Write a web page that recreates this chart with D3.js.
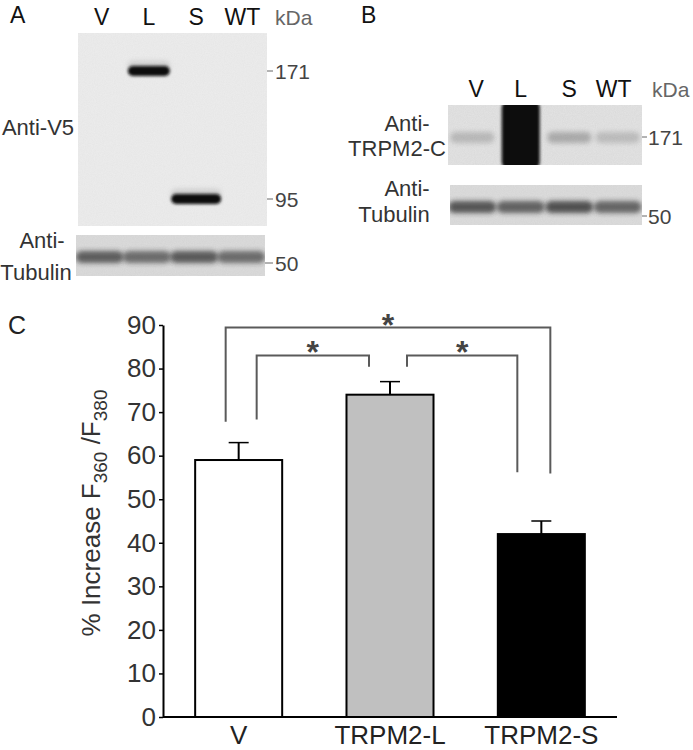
<!DOCTYPE html>
<html>
<head>
<meta charset="utf-8">
<script src="https://cdn.jsdelivr.net/npm/d3@7"></script>
<style>
  body { margin: 0; background: #fff; }
  svg { display: block; font-family: Arial, "Liberation Sans", sans-serif; }
</style>
</head>
<body>
<div class="chart"></div>
<script>
// ---- panel C data
var groups = ["V", "TRPM2-L", "TRPM2-S"];
var means = [59, 74, 42];
var errors = [4, 3, 3];
var yTicks = [0, 10, 20, 30, 40, 50, 60, 70, 80, 90];
// significance brackets: group index pairs, top level, leg ends (in % units)
var sigFrom = [0, 1, 0];
var sigTo = [1, 2, 2];
var sigTop = [83, 83, 89.4];
var sigFromEnd = [68.3, 80.4, 67.8];
var sigToEnd = [80.4, 56.2, 55.9];

// ---- blot data
var lanes = ["V", "L", "S", "WT"];
var markersA = [171, 95];
var v5Lane = ["L", "S"];
var v5kDa = [171, 95];
var trpm2Strength = [0.22, 1, 0.3, 0.2];
var tubulinA = [0.7, 0.62, 0.72, 0.62];
var tubulinB = [0.75, 0.68, 0.78, 0.66];

var width = 693, height = 750;
var svg = d3.select(".chart").append("svg").attr("width", width).attr("height", height);

var defs = svg.append("defs");
defs.append("filter").attr("id", "blur2").attr("x", "-30%").attr("y", "-60%").attr("width", "160%").attr("height", "220%")
  .append("feGaussianBlur").attr("stdDeviation", 1.8);
defs.append("filter").attr("id", "blur3").attr("x", "-30%").attr("y", "-60%").attr("width", "160%").attr("height", "220%")
  .append("feGaussianBlur").attr("stdDeviation", 2.6);
var noise = defs.append("filter").attr("id", "noise");
noise.append("feTurbulence").attr("type", "fractalNoise").attr("baseFrequency", 0.9).attr("numOctaves", 2).attr("seed", 4);
noise.append("feColorMatrix").attr("type", "matrix")
  .attr("values", "0 0 0 0 0.3  0 0 0 0 0.3  0 0 0 0 0.3  0 0 0 0.35 0");

function blotBox(g, x, y, w, h, fill, id) {
  defs.append("clipPath").attr("id", id).append("rect").attr("x", x).attr("y", y).attr("width", w).attr("height", h);
  g.append("rect").attr("x", x).attr("y", y).attr("width", w).attr("height", h).attr("fill", fill);
  var inner = g.append("g").attr("clip-path", "url(#" + id + ")");
  return inner;
}
function addNoise(g, x, y, w, h, op) {
  g.append("rect").attr("x", x).attr("y", y).attr("width", w).attr("height", h)
    .attr("filter", "url(#noise)").attr("opacity", op);
}

// ================= Panel A
var gA = svg.append("g");
gA.append("text").attr("x", 10).attr("y", 23).attr("font-size", 23).attr("fill", "#111").text("A");

var laneA = d3.scaleBand().domain(lanes).range([78, 267]);
gA.selectAll(".laneA").data(lanes).enter().append("text")
  .attr("x", d => laneA(d) + laneA.bandwidth() / 2 + (d === "WT" ? -1 : 0))
  .attr("y", 25).attr("text-anchor", "middle").attr("font-size", 23).attr("fill", "#111").text(d => d);
gA.append("text").attr("x", 275).attr("y", 25).attr("font-size", 21).attr("fill", "#666").text("kDa");

var kdaA = d3.scaleLog().domain([171, 95]).range([71, 199]);
var blotA = blotBox(gA, 78, 33, 189, 193, "#ededed", "clipA");
addNoise(blotA, 78, 33, 189, 193, 0.25);
v5Lane.forEach(function (ln, i) {
  var cx = laneA(ln) + laneA.bandwidth() / 2;
  var w = ln === "S" ? 50 : 42;
  // faint smear above band
  blotA.append("rect").attr("x", cx - w / 2).attr("y", kdaA(v5kDa[i]) - 10).attr("width", w).attr("height", 10)
    .attr("rx", 5).attr("fill", "#999").attr("opacity", 0.35).attr("filter", "url(#blur3)");
  blotA.append("rect").attr("x", cx - w / 2).attr("y", kdaA(v5kDa[i]) - 5).attr("width", w).attr("height", 10)
    .attr("rx", 5).attr("fill", "#111").attr("filter", "url(#blur2)");
});
gA.selectAll(".mkA").data(markersA).enter().append("line")
  .attr("x1", 267).attr("x2", 273).attr("y1", d => kdaA(d)).attr("y2", d => kdaA(d))
  .attr("stroke", "#666").attr("stroke-width", 1);
gA.selectAll(".mkAt").data(markersA).enter().append("text")
  .attr("x", 275).attr("y", d => kdaA(d) + 7.5).attr("font-size", 21).attr("fill", "#444").text(d => d);
gA.append("text").attr("x", 38).attr("y", 135).attr("text-anchor", "middle").attr("font-size", 22).attr("fill", "#333").text("Anti-V5");

// tubulin strip A
var tubA = blotBox(gA, 76, 235, 189, 41, "#dcdcdc", "clipTA");
addNoise(tubA, 76, 235, 189, 41, 0.35);
lanes.forEach(function (ln, i) {
  var cx = laneA(ln) + laneA.bandwidth() / 2 - 2;
  tubA.append("rect").attr("x", cx - 24).attr("y", 251).attr("width", 48).attr("height", 12).attr("rx", 6)
    .attr("fill", "#2a2a2a").attr("opacity", tubulinA[i]).attr("filter", "url(#blur3)");
});
gA.append("line").attr("x1", 265).attr("x2", 273).attr("y1", 263).attr("y2", 263).attr("stroke", "#666");
gA.append("text").attr("x", 275).attr("y", 271).attr("font-size", 21).attr("fill", "#444").text("50");
gA.append("text").attr("x", 42).attr("y", 248).attr("text-anchor", "middle").attr("font-size", 22).attr("fill", "#333").text("Anti-");
gA.append("text").attr("x", 36).attr("y", 280).attr("text-anchor", "middle").attr("font-size", 22).attr("fill", "#333").text("Tubulin");

// ================= Panel B
var gB = svg.append("g");
gB.append("text").attr("x", 361).attr("y", 23).attr("font-size", 23).attr("fill", "#111").text("B");
var laneB = d3.scaleBand().domain(lanes).range([448, 642]);
gB.selectAll(".laneB").data(lanes).enter().append("text")
  .attr("x", d => laneB(d) + laneB.bandwidth() / 2 + (d === "WT" ? -4 : d === "V" ? 4 : 0))
  .attr("y", 97).attr("text-anchor", "middle").attr("font-size", 23).attr("fill", "#111").text(d => d);
gB.append("text").attr("x", 652).attr("y", 97).attr("font-size", 21).attr("fill", "#666").text("kDa");

var blotB = blotBox(gB, 448, 105, 194, 60, "#e4e4e4", "clipB");
addNoise(blotB, 448, 105, 194, 60, 0.4);
lanes.forEach(function (ln, i) {
  var cx = laneB(ln) + laneB.bandwidth() / 2;
  if (trpm2Strength[i] >= 1) {
    blotB.append("rect").attr("x", cx - 19).attr("y", 100).attr("width", 38).attr("height", 70).attr("rx", 8)
      .attr("fill", "#0a0a0a").attr("filter", "url(#blur2)");
  } else {
    blotB.append("rect").attr("x", cx - 22).attr("y", 132).attr("width", 44).attr("height", 11).attr("rx", 5)
      .attr("fill", "#333").attr("opacity", trpm2Strength[i]).attr("filter", "url(#blur3)");
  }
});
gB.append("line").attr("x1", 642).attr("x2", 647).attr("y1", 137).attr("y2", 137).attr("stroke", "#666");
gB.append("text").attr("x", 648).attr("y", 144.5).attr("font-size", 21).attr("fill", "#444").text("171");
gB.append("text").attr("x", 407).attr("y", 131).attr("text-anchor", "middle").attr("font-size", 22).attr("fill", "#333").text("Anti-");
gB.append("text").attr("x", 397).attr("y", 156).attr("text-anchor", "middle").attr("font-size", 22).attr("fill", "#333").text("TRPM2-C");

var tubB = blotBox(gB, 450, 185, 192, 40, "#dddddd", "clipTB");
addNoise(tubB, 450, 185, 192, 40, 0.35);
lanes.forEach(function (ln, i) {
  var cx = laneB(ln) + laneB.bandwidth() / 2;
  tubB.append("rect").attr("x", cx - 24).attr("y", 201).attr("width", 48).attr("height", 12).attr("rx", 6)
    .attr("fill", "#2a2a2a").attr("opacity", tubulinB[i]).attr("filter", "url(#blur3)");
});
gB.append("line").attr("x1", 642).attr("x2", 647).attr("y1", 216).attr("y2", 216).attr("stroke", "#666");
gB.append("text").attr("x", 648).attr("y", 223.5).attr("font-size", 21).attr("fill", "#444").text("50");
gB.append("text").attr("x", 407).attr("y", 196).attr("text-anchor", "middle").attr("font-size", 22).attr("fill", "#333").text("Anti-");
gB.append("text").attr("x", 394).attr("y", 222).attr("text-anchor", "middle").attr("font-size", 22).attr("fill", "#333").text("Tubulin");

// ================= Panel C
var gC = svg.append("g");
gC.append("text").attr("x", 8).attr("y", 334).attr("font-size", 25).attr("fill", "#222").text("C");

var x = d3.scaleBand().domain(groups).range([163, 617]).paddingInner(0.425).paddingOuter(0.2125);
var y = d3.scaleLinear().domain([0, 90]).range([717, 325]);
var fills = ["#ffffff", "#c0c0c0", "#000000"];

var yAxis = gC.append("g").attr("transform", "translate(163,0)")
  .call(d3.axisLeft(y).tickValues(yTicks).tickSize(4).tickSizeOuter(0).tickPadding(3));
yAxis.select(".domain").attr("stroke", "#000").attr("stroke-width", 2);
yAxis.selectAll(".tick line").attr("stroke", "#000").attr("stroke-width", 1.5);
yAxis.selectAll(".tick text").attr("font-size", 26).attr("fill", "#333").attr("font-family", "Arial, 'Liberation Sans', sans-serif");

// bars
gC.selectAll(".bar").data(groups).enter().append("rect")
  .attr("x", d => x(d)).attr("width", x.bandwidth())
  .attr("y", (d, i) => y(means[i])).attr("height", (d, i) => y(0) - y(means[i]))
  .attr("fill", (d, i) => fills[i]).attr("stroke", "#000").attr("stroke-width", 2);

// error bars
groups.forEach(function (g, i) {
  var cx = x(g) + x.bandwidth() / 2;
  gC.append("line").attr("x1", cx).attr("x2", cx).attr("y1", y(means[i])).attr("y2", y(means[i] + errors[i]))
    .attr("stroke", "#000").attr("stroke-width", 2);
  gC.append("line").attr("x1", cx - 10).attr("x2", cx + 10).attr("y1", y(means[i] + errors[i])).attr("y2", y(means[i] + errors[i]))
    .attr("stroke", "#000").attr("stroke-width", 1.5);
});

// x axis line
gC.append("line").attr("x1", 163).attr("x2", 617).attr("y1", y(0)).attr("y2", y(0)).attr("stroke", "#000").attr("stroke-width", 2);
gC.selectAll(".xl").data(groups).enter().append("text")
  .attr("x", d => x(d) + x.bandwidth() / 2).attr("y", 744).attr("text-anchor", "middle")
  .attr("font-size", 26).attr("fill", "#222").text(d => d);

// significance brackets
var legOffFrom = [18, 17, -13];
var legOffTo = [-21, -24, 9];
sigFrom.forEach(function (f, k) {
  var x1 = x(groups[f]) + x.bandwidth() / 2 + legOffFrom[k];
  var x2 = x(groups[sigTo[k]]) + x.bandwidth() / 2 + legOffTo[k];
  gC.append("path")
    .attr("d", "M" + x1 + "," + y(sigFromEnd[k]) + "V" + y(sigTop[k]) + "H" + x2 + "V" + y(sigToEnd[k]))
    .attr("fill", "none").attr("stroke", "#5a5a5a").attr("stroke-width", 2);
  gC.append("text").attr("x", (x1 + x2) / 2).attr("y", y(sigTop[k]) + 8).attr("text-anchor", "middle")
    .attr("font-size", 32).attr("font-weight", "bold").attr("fill", "#444").text("*");
});

// y axis label
var yl = gC.append("text").attr("transform", "translate(100,513) rotate(-90)")
  .attr("text-anchor", "middle").attr("font-size", 26).attr("fill", "#333");
yl.append("tspan").text("% Increase F");
yl.append("tspan").attr("dy", 7).attr("font-size", 19).text("360");
yl.append("tspan").attr("dy", -7).text(" /F");
yl.append("tspan").attr("dy", 7).attr("font-size", 19).text("380");
</script>
</body>
</html>
